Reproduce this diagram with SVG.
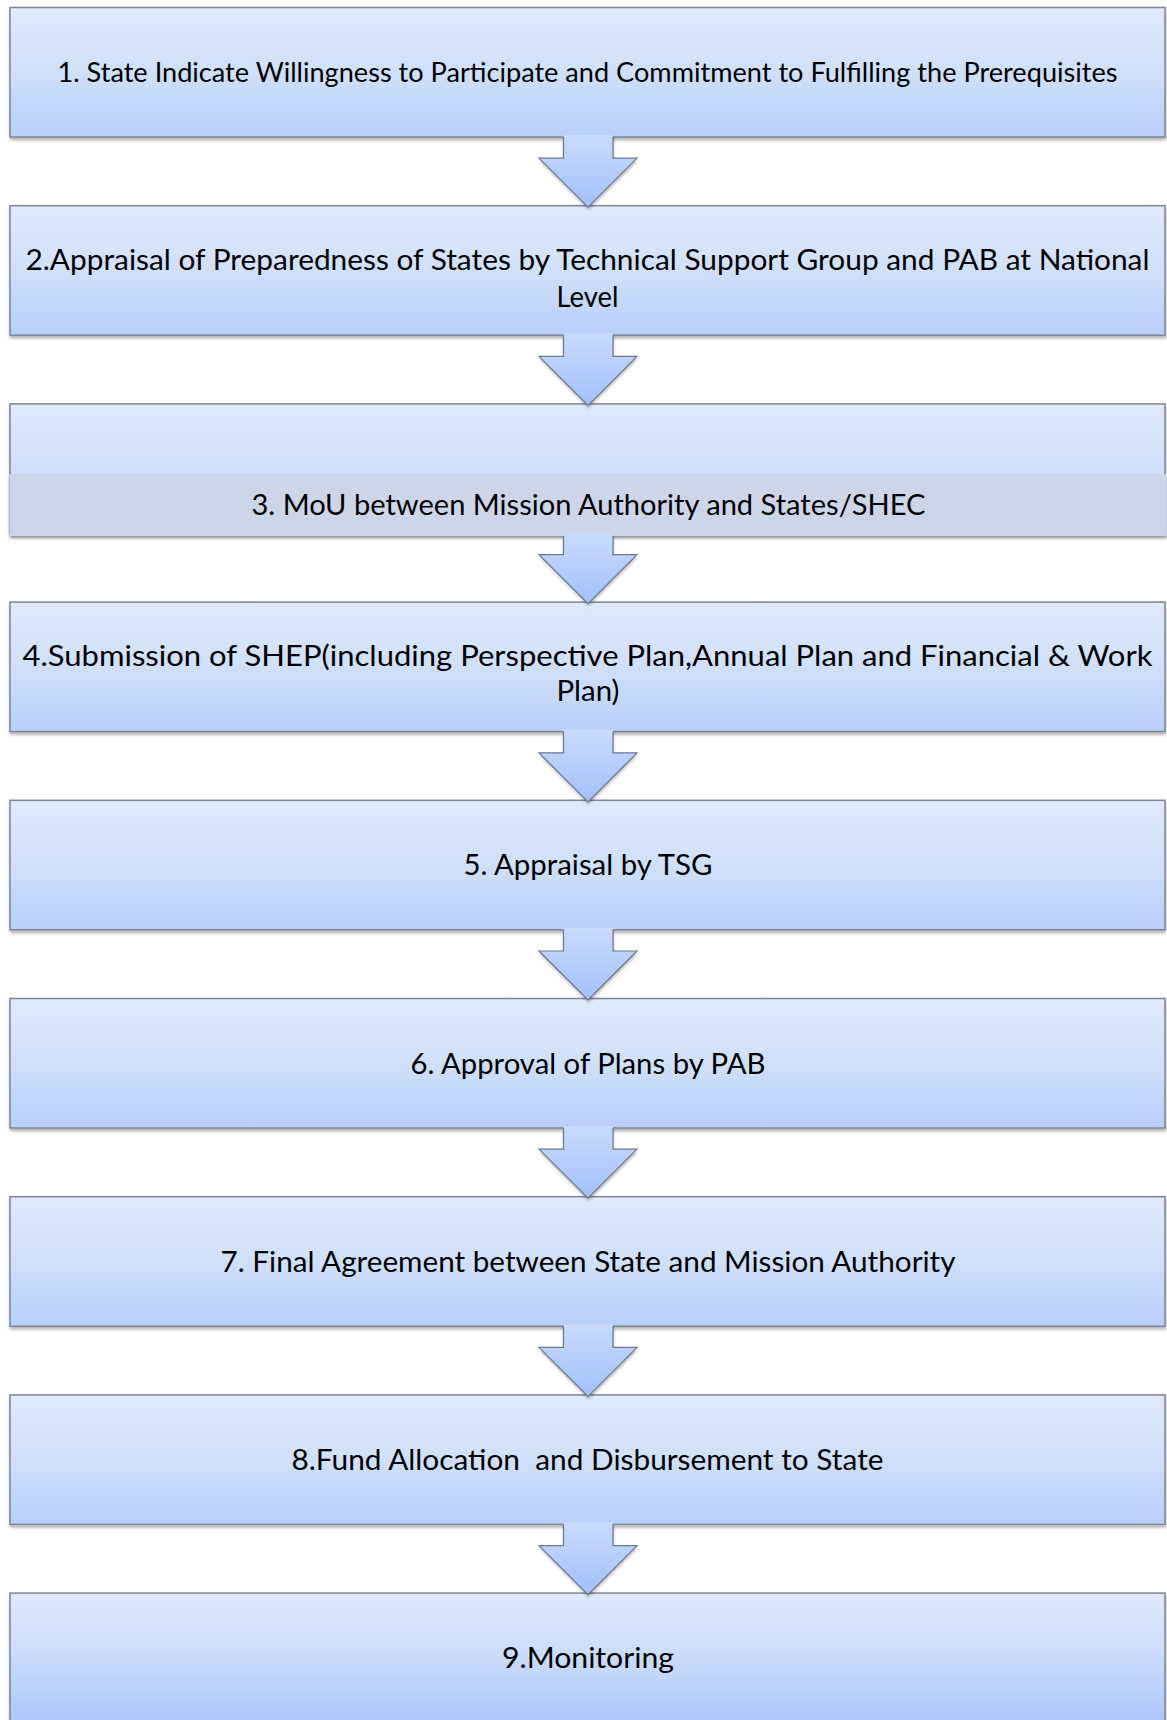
<svg xmlns="http://www.w3.org/2000/svg" width="1167" height="1720" viewBox="0 0 1167 1720">
<defs>
<linearGradient id="gBox" x1="0" y1="0" x2="0" y2="1">
<stop offset="0" stop-color="#e0eafc"/>
<stop offset="0.5" stop-color="#d0e0fa"/>
<stop offset="1" stop-color="#b8cff9"/>
</linearGradient>
<linearGradient id="gBox9" x1="0" y1="0" x2="0" y2="1">
<stop offset="0" stop-color="#e0eafc"/>
<stop offset="0.5" stop-color="#c8dafa"/>
<stop offset="1" stop-color="#a6c3fa"/>
</linearGradient>
<linearGradient id="gArrow" x1="0" y1="0" x2="0" y2="1">
<stop offset="0" stop-color="#c9dbfb"/>
<stop offset="1" stop-color="#a2c0fb"/>
</linearGradient>
<filter id="sh" x="-5%" y="-20%" width="110%" height="150%">
<feDropShadow dx="0.5" dy="2.5" stdDeviation="1.8" flood-color="#000" flood-opacity="0.3"/>
</filter>
</defs>
<style>
.box{fill:url(#gBox);stroke:#7d8594;stroke-width:1.5;filter:url(#sh)}
.band{fill:#cdd6e8;filter:url(#sh)}
.lbl{font-family:Lato,"Liberation Sans",sans-serif;fill:#000;text-anchor:middle}
.arr{fill:url(#gArrow);filter:url(#sh)}
.arrl{fill:none;stroke:#6b7890;stroke-width:1.2;stroke-linejoin:miter}
</style>
<rect width="1167" height="1720" fill="#fff"/>

<g id="node1">
<rect class="box" x="10" y="7.5" width="1155" height="129.5"/>
<text class="lbl" x="587.5" y="82" font-size="26.2" textLength="1060" lengthAdjust="spacingAndGlyphs">1. State Indicate Willingness to Participate and Commitment to Fulfilling the Prerequisites</text>
</g>
<g id="node2">
<rect class="box" x="10" y="205.7" width="1155" height="129.5"/>
<text class="lbl" x="587.5" y="270" font-size="28.8" textLength="1124" lengthAdjust="spacingAndGlyphs">2.Appraisal of Preparedness of States by Technical Support Group and PAB at National</text>
<text class="lbl" x="587.5" y="307" font-size="28.8" textLength="62" lengthAdjust="spacingAndGlyphs">Level</text>
</g>
<g id="node3">
<rect class="box" x="10" y="403.9" width="1155" height="129.5"/>
<rect class="band" x="9.5" y="474" width="1157" height="62"/>
<text class="lbl" x="588.5" y="515" font-size="28.6" textLength="674" lengthAdjust="spacingAndGlyphs">3. MoU between Mission Authority and States/SHEC</text>
</g>
<g id="node4">
<rect class="box" x="10" y="602.1" width="1155" height="129.5"/>
<text class="lbl" x="587.5" y="666" font-size="29.7" textLength="1130" lengthAdjust="spacingAndGlyphs">4.Submission of SHEP(including Perspective Plan,Annual Plan and Financial &amp; Work</text>
<text class="lbl" x="588" y="701" font-size="29.7" textLength="63" lengthAdjust="spacingAndGlyphs">Plan)</text>
</g>
<g id="node5">
<rect class="box" x="10" y="800.3" width="1155" height="129.5"/>
<text class="lbl" x="588" y="875" font-size="28.8" textLength="249" lengthAdjust="spacingAndGlyphs">5. Appraisal by TSG</text>
</g>
<g id="node6">
<rect class="box" x="10" y="998.5" width="1155" height="129.5"/>
<text class="lbl" x="588" y="1073.5" font-size="28.8" textLength="355" lengthAdjust="spacingAndGlyphs">6. Approval of Plans by PAB</text>
</g>
<g id="node7">
<rect class="box" x="10" y="1196.7" width="1155" height="129.5"/>
<text class="lbl" x="588" y="1271.5" font-size="28.8" textLength="735" lengthAdjust="spacingAndGlyphs">7. Final Agreement between State and Mission Authority</text>
</g>
<g id="node8">
<rect class="box" x="10" y="1394.9" width="1155" height="129.5"/>
<text class="lbl" x="587.5" y="1469.9" font-size="28.8" textLength="592" lengthAdjust="spacingAndGlyphs" xml:space="preserve">8.Fund Allocation  and Disbursement to State</text>
</g>
<g id="node9">
<rect class="box" x="10" y="1593.1" width="1155" height="140" style="fill:url(#gBox9)"/>
<text class="lbl" x="588" y="1668" font-size="28.8" textLength="172" lengthAdjust="spacingAndGlyphs">9.Monitoring</text>
</g>

<g id="connectors">
<g id="a1">
<polygon class="arr" points="563.5,135 613,135 613,158.2 637,158.2 588,207.2 539,158.2 563.5,158.2"/>
<path class="arrl" d="M563.5,137 V158.2 H539 L588,207.2 L637,158.2 H613 V137"/>
</g>
<g id="a2">
<polygon class="arr" points="563.5,333.2 613,333.2 613,356.4 637,356.4 588,405.4 539,356.4 563.5,356.4"/>
<path class="arrl" d="M563.5,335.2 V356.4 H539 L588,405.4 L637,356.4 H613 V335.2"/>
</g>
<g id="a3">
<polygon class="arr" points="563.5,534 613,534 613,554.6 637,554.6 588,603.6 539,554.6 563.5,554.6"/>
<path class="arrl" d="M563.5,536 V554.6 H539 L588,603.6 L637,554.6 H613 V536"/>
</g>
<g id="a4">
<polygon class="arr" points="563.5,729.6 613,729.6 613,752.8 637,752.8 588,801.8 539,752.8 563.5,752.8"/>
<path class="arrl" d="M563.5,731.6 V752.8 H539 L588,801.8 L637,752.8 H613 V731.6"/>
</g>
<g id="a5">
<polygon class="arr" points="563.5,927.8 613,927.8 613,951 637,951 588,1000 539,951 563.5,951"/>
<path class="arrl" d="M563.5,929.8 V951 H539 L588,1000 L637,951 H613 V929.8"/>
</g>
<g id="a6">
<polygon class="arr" points="563.5,1126 613,1126 613,1149.2 637,1149.2 588,1198.2 539,1149.2 563.5,1149.2"/>
<path class="arrl" d="M563.5,1128 V1149.2 H539 L588,1198.2 L637,1149.2 H613 V1128"/>
</g>
<g id="a7">
<polygon class="arr" points="563.5,1324.2 613,1324.2 613,1347.4 637,1347.4 588,1396.4 539,1347.4 563.5,1347.4"/>
<path class="arrl" d="M563.5,1326.2 V1347.4 H539 L588,1396.4 L637,1347.4 H613 V1326.2"/>
</g>
<g id="a8">
<polygon class="arr" points="563.5,1522.4 613,1522.4 613,1545.6 637,1545.6 588,1594.6 539,1545.6 563.5,1545.6"/>
<path class="arrl" d="M563.5,1524.4 V1545.6 H539 L588,1594.6 L637,1545.6 H613 V1524.4"/>
</g>
</g>
</svg>
